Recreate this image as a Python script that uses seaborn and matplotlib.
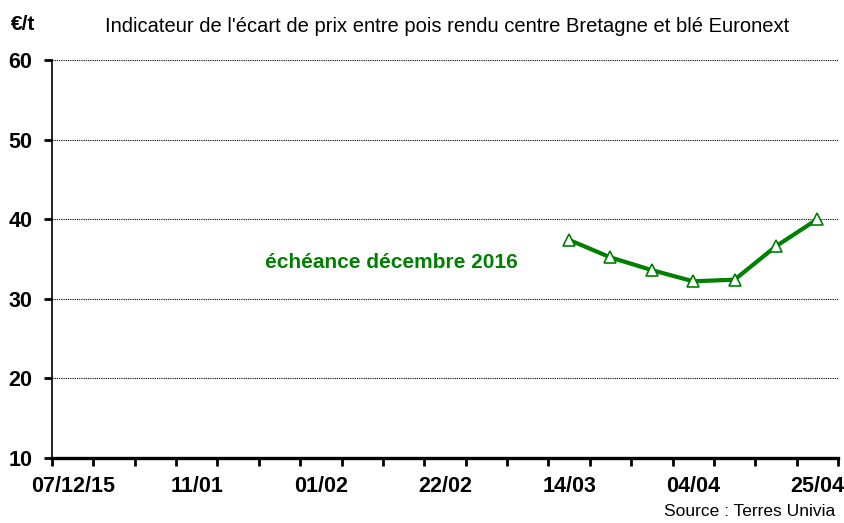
import pandas as pd
import seaborn as sns
import matplotlib.pyplot as plt

# semaines (axe en catégories)
semaines = ["07/12/15", "14/12", "21/12", "11/01", "18/01", "25/01", "01/02",
            "08/02", "15/02", "22/02", "29/02", "07/03", "14/03", "21/03",
            "28/03", "04/04", "11/04", "18/04", "25/04"]
semaines_serie = ["14/03", "21/03", "28/03", "04/04", "11/04", "18/04", "25/04"]
ecart = [37.4, 35.2, 33.6, 32.2, 32.4, 36.6, 40.0]
yticks = [10, 20, 30, 40, 50, 60]

vert = "#008000"

sns.set_theme(style="white")
plt.rcParams["font.family"] = ["Liberation Sans", "DejaVu Sans"]
plt.rcParams["text.color"] = "black"
plt.rcParams["xtick.color"] = "black"
plt.rcParams["ytick.color"] = "black"

df = pd.DataFrame({"semaine": semaines_serie, "ecart": ecart})
df["pos"] = df["semaine"].map({s: i for i, s in enumerate(semaines)})

fig = plt.figure(figsize=(8.45, 5.23), dpi=100)
ax = fig.add_axes([52 / 845, 1 - 458 / 523, (838 - 52) / 845, (458 - 60) / 523])

sns.lineplot(data=df, x="pos", y="ecart", ax=ax, color=vert, linewidth=3,
             marker="^", markersize=9, markerfacecolor="white",
             markeredgecolor=vert, markeredgewidth=1.2)

ax.set_xlim(-0.5, len(semaines) - 0.5)
ax.set_ylim(10, 60)
ax.set_yticks(yticks)
ax.set_yticklabels([str(v) for v in yticks], fontsize=15.5, fontweight="bold")

# graduations aux limites des catégories, étiquettes toutes les 3 semaines
ax.set_xticks([i - 0.5 for i in range(len(semaines) + 1)])
ax.set_xticklabels([])
ax.set_xticks(list(range(0, len(semaines), 3)), minor=True)
ax.set_xticklabels(semaines[::3], minor=True, fontsize=15.5, fontweight="bold")
ax.tick_params(axis="x", which="major", direction="out", length=6, width=2,
               color="black", bottom=True)
ax.tick_params(axis="x", which="minor", length=0, pad=13)
ax.tick_params(axis="y", direction="out", length=6, width=2, color="black",
               left=True, pad=8)

for v in yticks[1:]:
    ax.axhline(v, color="black", linewidth=0.8, linestyle=(0, (1, 1)), zorder=0)

for s in ["top", "right"]:
    ax.spines[s].set_visible(False)
ax.spines["left"].set_color("black")
ax.spines["left"].set_linewidth(1.2)
ax.spines["bottom"].set_color("black")
ax.spines["bottom"].set_linewidth(2.4)

ax.set_xlabel("")
ax.set_ylabel("")

ax.text(391 / 845, 1 - 263 / 523, "échéance décembre 2016", transform=fig.transFigure,
        ha="center", va="center", fontsize=15, fontweight="bold", color=vert)

fig.text(447 / 845, 1 - 27 / 523,
         "Indicateur de l'écart de prix entre pois rendu centre Bretagne et blé Euronext",
         ha="center", va="center", fontsize=14.5, color="black")
fig.text(11 / 845, 1 - 25 / 523, "€/t", ha="left", va="center", fontsize=15,
         fontweight="bold", color="black")
fig.text(835 / 845, 1 - 512 / 523, "Source : Terres Univia", ha="right",
         va="center", fontsize=12.5, color="black")

fig.savefig("out.png", dpi=100)
plt.close(fig)
